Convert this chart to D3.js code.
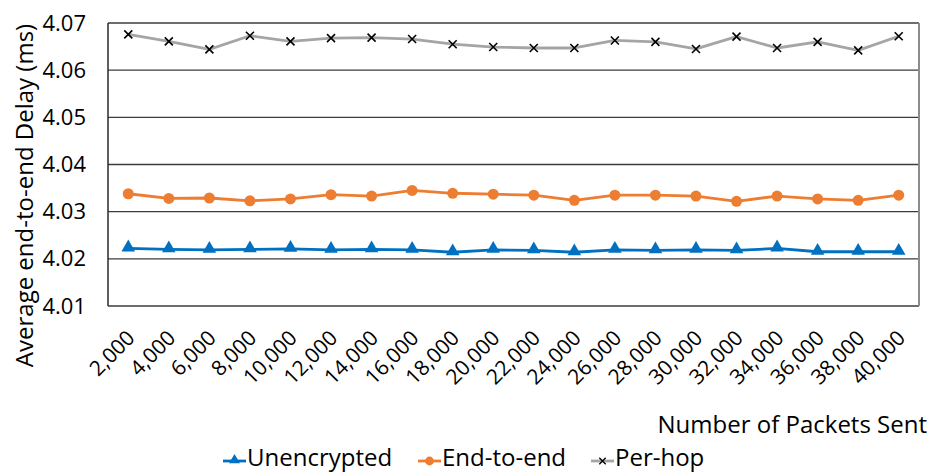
<!DOCTYPE html>
<html>
<head>
<meta charset="utf-8">
<script src="https://cdn.jsdelivr.net/npm/d3@7"></script>
<style>
  html, body { margin: 0; padding: 0; background: #fff; }
  svg { display: block; font-family: "Open Sans", sans-serif; }
</style>
</head>
<body>
<svg id="chart" width="931" height="475"></svg>
<script>
// Packets sent (x categories)
const packets = [2000, 4000, 6000, 8000, 10000, 12000, 14000, 16000, 18000, 20000,
                 22000, 24000, 26000, 28000, 30000, 32000, 34000, 36000, 38000, 40000];

// Average end-to-end delay (ms) per scheme
const unencrypted = [4.0222, 4.0220, 4.0219, 4.0220, 4.0221, 4.0219, 4.0220, 4.0219, 4.0214, 4.0219,
                     4.0218, 4.0214, 4.0219, 4.0218, 4.0219, 4.0218, 4.0222, 4.0215, 4.0215, 4.0215];
const endToEnd    = [4.0338, 4.0328, 4.0329, 4.0323, 4.0327, 4.0336, 4.0333, 4.0345, 4.0339, 4.0337,
                     4.0335, 4.0324, 4.0335, 4.0335, 4.0333, 4.0322, 4.0333, 4.0327, 4.0324, 4.0335];
const perHop      = [4.0676, 4.0661, 4.0644, 4.0673, 4.0661, 4.0668, 4.0669, 4.0666, 4.0655, 4.0649,
                     4.0647, 4.0647, 4.0663, 4.0660, 4.0645, 4.0671, 4.0647, 4.0660, 4.0642, 4.0672];

const yTicks = [4.01, 4.02, 4.03, 4.04, 4.05, 4.06, 4.07];

const seriesNames = ["Unencrypted", "End-to-end", "Per-hop"];
const seriesColors = ["#0070C0", "#ED7D31", "#A5A5A5"];

const svg = d3.select("#chart");
const plot = { left: 108, right: 919, top: 23, bottom: 306 };

const x = d3.scalePoint()
  .domain(packets)
  .range([plot.left, plot.right])
  .padding(0.5);

const y = d3.scaleLinear()
  .domain([4.01, 4.07])
  .range([plot.bottom, plot.top]);

// Horizontal gridlines
svg.append("g")
  .selectAll("line")
  .data(yTicks)
  .join("line")
  .attr("x1", plot.left).attr("x2", plot.right)
  .attr("y1", d => y(d)).attr("y2", d => y(d))
  .attr("stroke", "#3c3c3c")
  .attr("stroke-width", 1.3);

// Plot frame
svg.append("line")
  .attr("x1", plot.left).attr("x2", plot.left)
  .attr("y1", plot.top).attr("y2", plot.bottom)
  .attr("stroke", "#2a2a2a").attr("stroke-width", 1.5);
svg.append("line")
  .attr("x1", plot.right).attr("x2", plot.right)
  .attr("y1", plot.top).attr("y2", plot.bottom)
  .attr("stroke", "#8c8c8c").attr("stroke-width", 2);

// Y axis
const yAxis = svg.append("g")
  .attr("transform", `translate(${plot.left},0)`)
  .call(d3.axisLeft(y).tickValues(yTicks).tickFormat(d3.format(".2f")).tickSize(0).tickPadding(22));
yAxis.select(".domain").remove();
yAxis.selectAll("text")
  .attr("font-size", 22)
  .attr("font-family", "Open Sans, sans-serif")
  .attr("fill", "#000");

// X axis
const xAxis = svg.append("g")
  .attr("transform", `translate(0,${plot.bottom})`)
  .call(d3.axisBottom(x).tickFormat(d3.format(",")).tickSize(0));
xAxis.select(".domain").remove();
xAxis.selectAll("text")
  .attr("font-size", 21)
  .attr("font-family", "Open Sans, sans-serif")
  .attr("fill", "#000")
  .attr("text-anchor", "end")
  .attr("dy", "0.35em")
  .attr("transform", "translate(0,26) rotate(-45)");

// Axis titles
svg.append("text")
  .attr("transform", `translate(33,${(plot.top + 368) / 2}) rotate(-90)`)
  .attr("text-anchor", "middle")
  .attr("font-size", 24)
  .attr("fill", "#000")
  .text("Average end-to-end Delay (ms)");

svg.append("text")
  .attr("x", 927).attr("y", 433)
  .attr("text-anchor", "end")
  .attr("font-size", 24)
  .attr("fill", "#000")
  .text("Number of Packets Sent");

// Series lines and markers
const allSeries = [unencrypted, endToEnd, perHop];
const line = d3.line().x((d, i) => x(packets[i])).y(d => y(d));

const triangle = d3.symbol().type(d3.symbolTriangle).size(80);

function drawMarker(g, k, color) {
  if (k === 0) {
    g.append("path").attr("d", triangle()).attr("fill", color).attr("transform", "translate(0,-1)");
  } else if (k === 1) {
    g.append("circle").attr("r", 5.5).attr("fill", color);
  } else {
    g.append("path").attr("d", "M-4,-4L4,4M-4,4L4,-4")
      .attr("stroke", "#000").attr("stroke-width", 1.6).attr("fill", "none");
  }
}

allSeries.forEach((vals, k) => {
  svg.append("path")
    .datum(vals)
    .attr("d", line)
    .attr("fill", "none")
    .attr("stroke", seriesColors[k])
    .attr("stroke-width", 2.8)
    .attr("stroke-linejoin", "round");
  vals.forEach((v, i) => {
    const g = svg.append("g").attr("transform", `translate(${x(packets[i])},${y(v)})`);
    drawMarker(g, k, seriesColors[k]);
  });
});

// Legend
const legendItems = [
  { x: 223, name: seriesNames[0] },
  { x: 418, name: seriesNames[1] },
  { x: 591, name: seriesNames[2] }
];
legendItems.forEach((it, k) => {
  const g = svg.append("g").attr("transform", `translate(${it.x},461)`);
  g.append("line").attr("x1", 0).attr("x2", 23).attr("y1", 0).attr("y2", 0)
    .attr("stroke", seriesColors[k]).attr("stroke-width", 2.8);
  const m = g.append("g").attr("transform", "translate(11.5,0) scale(0.8)");
  drawMarker(m, k, seriesColors[k]);
  g.append("text")
    .attr("x", 24).attr("y", 5)
    .attr("font-size", 24)
    .attr("fill", "#000")
    .text(it.name);
});
</script>
</body>
</html>
